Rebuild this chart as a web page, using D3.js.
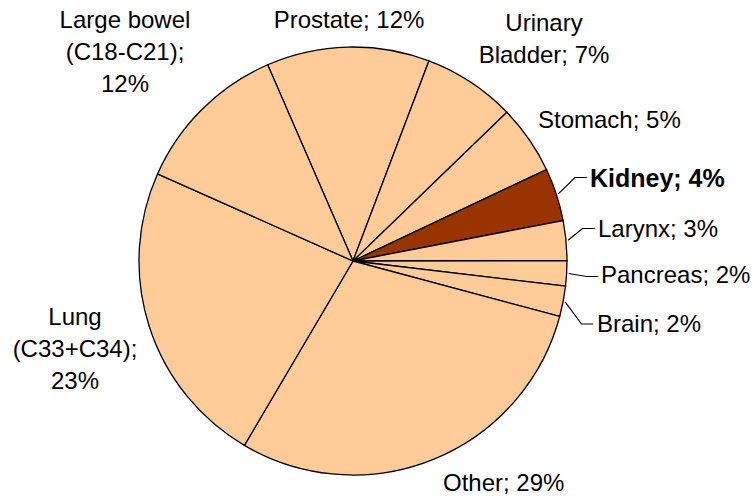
<!DOCTYPE html>
<meta charset="utf-8">
<style>
body, html {
  margin: 0;
  padding: 0;
  background: #fff;
}
.label {
  font: 24px "Liberation Sans", Arial, Helvetica, sans-serif;
  fill: #000;
}
.label--bold {
  font-weight: bold;
  font-size: 25px;
}
.slice {
  stroke: #000;
  stroke-width: 1.3px;
}
.leader {
  fill: none;
  stroke: #000;
  stroke-width: 1.2px;
}
</style>
<div id="chart"></div>
<script src="https://d3js.org/d3.v7.min.js"></script>
<script>
// clockwise order, starting from the Prostate slice
const categories = ["Prostate", "Urinary Bladder", "Stomach", "Kidney", "Larynx",
                    "Pancreas", "Brain", "Other", "Lung (C33+C34)", "Large bowel (C18-C21)"];
const shares = [12.3, 7.0, 5.2, 4.0, 3.0, 1.9, 2.3, 29.3, 23.2, 11.8];
const highlight = "Kidney";

const width = 755, height = 496;
const cx = 353, cy = 261, radius = 214;
const startDeg = -23.5;

// label layout: text anchor point, words per line, optional leader elbow
const layout = {
  "Prostate":              {x: 349, y: 28,  anchor: "middle", words: [3]},
  "Urinary Bladder":       {x: 544, y: 31,  anchor: "middle", words: [1, 2]},
  "Stomach":               {x: 538, y: 128, anchor: "start",  words: [2]},
  "Kidney":                {x: 590, y: 187, anchor: "start",  words: [2], elbow: [575, 177.5], end: 587},
  "Larynx":                {x: 598, y: 237, anchor: "start",  words: [2], elbow: [582.5, 228.5], end: 595},
  "Pancreas":              {x: 601, y: 283, anchor: "start",  words: [2], elbow: [586.5, 276.5], end: 598},
  "Brain":                 {x: 597, y: 332, anchor: "start",  words: [2], elbow: [581.5, 324], end: 593},
  "Other":                 {x: 443, y: 491, anchor: "start",  words: [2]},
  "Lung (C33+C34)":        {x: 75,  y: 325, anchor: "middle", words: [1, 1, 1]},
  "Large bowel (C18-C21)": {x: 125, y: 28,  anchor: "middle", words: [2, 1, 1]}
};
const lineStep = 31.8;

const data = categories.map((c, i) => ({name: c, value: shares[i]}));

const svg = d3.select("#chart").append("svg")
    .attr("width", width)
    .attr("height", height);

const pie = d3.pie()
    .sort(null)
    .value(d => d.value)
    .startAngle(startDeg * Math.PI / 180)
    .endAngle((startDeg + 360) * Math.PI / 180);

const arc = d3.arc().innerRadius(0).outerRadius(radius);
const arcs = pie(data);

const g = svg.append("g").attr("transform", "translate(" + cx + "," + cy + ")");

g.selectAll("path.slice")
  .data(arcs)
  .enter().append("path")
    .attr("class", "slice")
    .attr("fill", d => d.data.name === highlight ? "#993300" : "#FFCC99")
    .attr("d", arc);

// leader lines for the small slices on the right
const edge = d3.arc().innerRadius(radius + 2).outerRadius(radius + 2);
svg.selectAll("path.leader")
  .data(arcs.filter(d => layout[d.data.name].elbow))
  .enter().append("path")
    .attr("class", "leader")
    .attr("d", d => {
      const p = edge.centroid(d);
      const L = layout[d.data.name];
      return d3.line()([[cx + p[0], cy + p[1]], L.elbow, [L.end, L.elbow[1]]]);
    });

// labels
arcs.forEach(d => {
  const L = layout[d.data.name];
  const words = (d.data.name + "; " + Math.round(d.data.value) + "%").split(" ");
  const lines = [];
  let k = 0;
  L.words.forEach(n => { lines.push(words.slice(k, k + n).join(" ")); k += n; });
  if (k < words.length) lines[lines.length - 1] += " " + words.slice(k).join(" ");

  const t = svg.append("text")
      .attr("class", d.data.name === highlight ? "label label--bold" : "label")
      .attr("text-anchor", L.anchor);
  lines.forEach((s, i) => {
    t.append("tspan")
      .attr("x", L.x)
      .attr("y", L.y + i * lineStep)
      .text(s);
  });
});
</script>
